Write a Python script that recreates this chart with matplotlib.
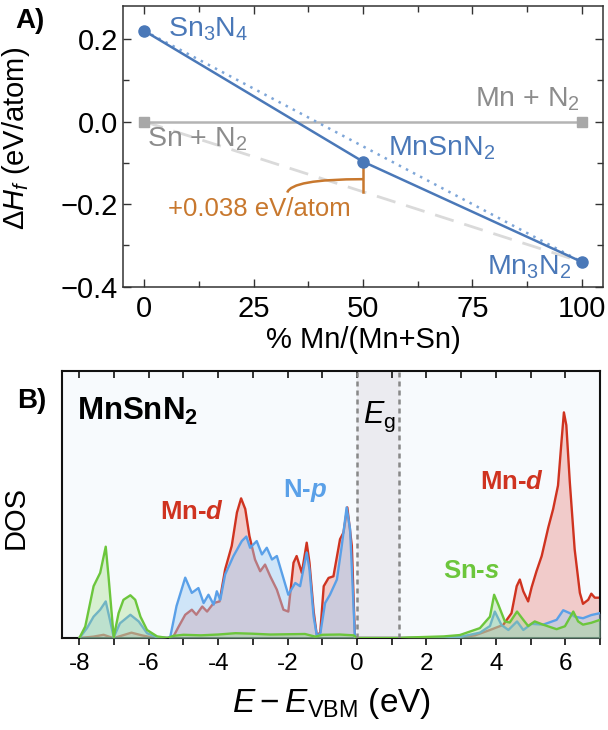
import numpy as np
import matplotlib
matplotlib.use("Agg")
import matplotlib.pyplot as plt
from matplotlib.path import Path
from matplotlib.patches import PathPatch
from matplotlib.ticker import MultipleLocator

plt.rcParams["font.family"] = ["Liberation Sans", "DejaVu Sans"]
plt.rcParams["mathtext.fontset"] = "custom"
plt.rcParams["mathtext.rm"] = "Liberation Sans"
plt.rcParams["mathtext.it"] = "Liberation Sans:italic"
plt.rcParams["mathtext.bf"] = "Liberation Sans:bold"
plt.rcParams["mathtext.bfit"] = "Liberation Sans:italic:bold"

# ---------------- Panel A: formation enthalpy ----------------
compounds = ["Sn$_3$N$_4$", "MnSnN$_2$", "Mn$_3$N$_2$"]
comp_x = [0, 50, 100]
comp_dH = [0.22, -0.097, -0.34]
elements = ["Sn + N$_2$", "Mn + N$_2$"]
elem_x = [0, 100]
elem_dH = [0.0, 0.0]
above_hull_label = "+0.038 eV/atom"

# ---------------- Panel B: projected DOS ----------------
mn_d_E = [-8.0, -7.6, -7.3, -7.1, -7.0, -6.8, -6.5, -6.2, -5.9, -5.5, -5.3, -5.15,
          -4.95, -4.76, -4.63, -4.46, -4.32, -4.13, -3.96, -3.80, -3.61, -3.46, -3.34,
          -3.22, -3.10, -2.94, -2.79, -2.65, -2.50, -2.31, -2.12, -1.98, -1.83, -1.74,
          -1.59, -1.45, -1.37, -1.25, -1.16, -1.06, -0.96, -0.82, -0.68, -0.49, -0.39,
          -0.28, -0.15, -0.06, 1.2, 2.5, 2.96, 3.4, 3.83, 4.21, 4.45, 4.60, 4.69, 4.79,
          4.93, 5.03, 5.17, 5.32, 5.51, 5.65, 5.79, 5.89, 5.96, 6.03, 6.13, 6.27, 6.42,
          6.51, 6.66, 6.75, 6.85, 7.0]
mn_d_dos = [0, 0.5, 1.2, 0.3, 0, 0.8, 2.0, 1.0, 0.2, 0, 0.3, 4.0,
            8.7, 10.6, 8.7, 11.8, 9.9, 13.1, 13.7, 25.7, 34.5, 47.0, 52.3,
            48.3, 38.2, 29.4, 25.0, 27.5, 23.1, 18.1, 10.6, 9.9, 28.2, 30.7,
            24.4, 35.7, 28.2, 10.0, 1.0, 2.0, 19.4, 22.5, 23.1, 37.0, 39.5,
            48.9, 34.5, 0, 0, 0, 0.2, 1.0, 3.0, 4.9, 9.3, 19.4, 21.9, 17.5,
            13.7, 19.0, 25.0, 30.7, 41.4, 48.3, 57.1, 73.5, 84.5, 79.7, 58.4, 33.2, 16.9,
            12.8, 14.3, 16.6, 15.1, 15.1]

n_p_E = [-8.0, -7.78, -7.59, -7.40, -7.24, -7.12, -7.01, -6.83, -6.53, -6.29, -6.05,
         -5.76, -5.45, -5.38, -5.2, -4.95, -4.76, -4.57, -4.42, -4.28, -4.13, -4.04,
         -3.94, -3.80, -3.56, -3.32, -3.19, -3.08, -2.89, -2.74, -2.60, -2.45, -2.31,
         -1.98, -1.78, -1.64, -1.45, -1.37, -1.25, -1.16, -1.06, -0.92, -0.78, -0.58,
         -0.44, -0.30, -0.20, -0.06, 1.2, 2.5, 2.96, 3.54, 3.83, 3.97, 4.16, 4.36, 4.61,
         4.79, 5.03, 5.36, 5.75, 5.94, 6.13, 6.27, 6.51, 6.75, 7.0]
n_p_dos = [0, 3.7, 8.0, 10.6, 13.7, 6.8, 0.3, 5.5, 8.7, 6.2, 1.8,
           0.3, 0, 0.5, 12.0, 22.6, 16.9, 18.7, 13.1, 16.2, 12.5, 17.5,
           14.3, 23.8, 30.7, 36.3, 38.0, 33.8, 36.3, 31.3, 33.8, 29.4, 30.7,
           16.2, 20.6, 19.4, 32.0, 25.7, 8.0, 1.1, 1.5, 13.1, 16.2, 21.9,
           34.5, 48.9, 40.8, 0, 0, 0.1, 0.4, 2.0, 4.5, 9.9, 4.9, 3.0, 6.2,
           3.0, 5.3, 5.0, 6.8, 10.4, 9.3, 8.0, 7.4, 8.6, 9.3]

sn_s_E = [-8.0, -7.83, -7.59, -7.40, -7.24, -7.16, -7.01, -6.87, -6.73, -6.53, -6.39,
          -6.24, -6.05, -5.76, -5.45, -5.3, -5.0, -4.5, -4.0, -3.5, -3.0, -2.5, -2.0,
          -1.5, -1.2, -1.0, -0.5, -0.1, 0.0, 1.2, 1.5, 2.0, 2.5, 2.96, 3.54, 3.83, 3.95,
          4.07, 4.26, 4.40, 4.61, 4.79, 4.93, 5.12, 5.36, 5.75, 5.99, 6.23, 6.37, 6.51,
          6.75, 7.0]
sn_s_dos = [0, 4.3, 19.4, 24.4, 34.2, 23.1, 0.3, 9.3, 14.3, 16.0, 14.3,
            8.0, 3.0, 0.6, 0, 0.8, 1.2, 1.0, 1.3, 1.8, 1.6, 1.3, 1.4,
            1.5, 0.5, 1.2, 1.3, 1.0, 0, 0, 0.2, 0.4, 0.6, 1.1, 3.7, 8.0, 16.2,
            12.5, 6.2, 5.8, 9.9, 6.8, 4.5, 6.2, 5.0, 3.3, 4.4, 9.9, 6.2, 5.0,
            5.7, 6.8]

gap_edges = [0.0, 1.2]

BLUE = "#4a78b8"
BLUE_LIGHT = "#7ea6d8"
GRAY = "#b4b4b4"
GRAY_TXT = "#8c8c8c"
ORANGE = "#c8782e"

RED = "#cf3320"
NBLUE = "#5aa0e8"
GREEN = "#6cc63c"

fig = plt.figure(figsize=(6.08, 7.30), dpi=100)

# ====== Panel A ======
axA = fig.add_axes([122.7 / 608, 1 - 286.7 / 730, 480.6 / 608, 280.7 / 730])
axA.set_xlim(-4.9, 104.9)
axA.set_ylim(-0.4, 0.28)

# reference lines, hull and compound line
axA.plot(elem_x, elem_dH, color=GRAY, lw=1.8, zorder=2)
axA.plot([elem_x[0], comp_x[2]], [elem_dH[0], comp_dH[2]], color="#dadada",
         lw=2.0, dashes=(7, 4), zorder=1)
axA.plot([comp_x[0], comp_x[2]], [comp_dH[0], comp_dH[2]], color=BLUE_LIGHT,
         lw=1.8, linestyle=(0, (1, 2.2)), zorder=2)
axA.plot(comp_x, comp_dH, color=BLUE, lw=1.8, zorder=3)
axA.plot(elem_x, elem_dH, "s", color="#a8a8a8", ms=7, zorder=4)
axA.plot(comp_x, comp_dH, "o", color=BLUE, ms=8, zorder=5)

# energy above hull bracket with a curved leader to its label
hull_mid = elem_dH[0] + (comp_dH[2] - elem_dH[0]) * (comp_x[1] - elem_x[0]) / (comp_x[2] - elem_x[0])
axA.plot([comp_x[1], comp_x[1]], [hull_mid, comp_dH[1]], color=ORANGE, lw=1.8, zorder=4)
mid_y = (hull_mid + comp_dH[1]) / 2 - 0.006
leader = Path([(32.7, hull_mid - 0.002), (33.6, mid_y), (comp_x[1], mid_y)],
              [Path.MOVETO, Path.CURVE3, Path.CURVE3])
axA.add_patch(PathPatch(leader, fc="none", ec=ORANGE, lw=1.8, zorder=4))
axA.text(5.5, -0.2295, above_hull_label, color=ORANGE, fontsize=18.5,
         ha="left", va="baseline")

axA.text(5.5, 0.205, compounds[0], color=BLUE, fontsize=20.5, ha="left", va="baseline")
axA.text(55.6, -0.0816, compounds[1], color=BLUE, fontsize=20.5, ha="left", va="baseline")
axA.text(97.7, -0.37, compounds[2], color=BLUE, fontsize=20.5, ha="right", va="baseline")
axA.text(0.6, -0.0615, elements[0], color=GRAY_TXT, fontsize=20.5, ha="left", va="baseline")
axA.text(99.6, 0.037, elements[1], color=GRAY_TXT, fontsize=20.5, ha="right", va="baseline")

axA.xaxis.set_minor_locator(MultipleLocator(12.5))
axA.yaxis.set_minor_locator(MultipleLocator(0.1))
axA.set_xticks([0, 25, 50, 75, 100])
axA.set_yticks([-0.4, -0.2, 0.0, 0.2])
axA.set_yticklabels(["\u22120.4", "\u22120.2", "0.0", "0.2"])
axA.tick_params(axis="both", which="both", direction="in", top=True, right=True,
                labelsize=21, color="#333333")
axA.tick_params(which="major", length=6, width=1)
axA.tick_params(which="minor", length=4, width=1)
axA.tick_params(axis="x", pad=6)
for s in axA.spines.values():
    s.set_color("#333333")
    s.set_linewidth(1.1)
axA.set_xlabel("% Mn/(Mn+Sn)", fontsize=21, labelpad=2)
axA.set_ylabel(r"$\Delta H_f$ (eV/atom)", fontsize=21)
axA.yaxis.set_label_coords(-(122.7 - 32) / 480.6, 0.53)

# ====== Panel B ======
axB = fig.add_axes([62 / 608, 1 - 638 / 730, 538 / 608, 267 / 730])
axB.set_facecolor("#f7fafd")
axB.set_xlim(-8.5, 7.0)
axB.set_ylim(0, 100)

axB.axvspan(gap_edges[0], gap_edges[1], color="#ebebf0", zorder=0)
for xe in gap_edges:
    axB.axvline(xe, color="#888888", lw=1.8, linestyle=(0, (2.0, 1.6)), zorder=6)

axB.fill_between(mn_d_E, mn_d_dos, color="#ec9e98", alpha=0.5, lw=0, zorder=1)
axB.plot(mn_d_E, mn_d_dos, color=RED, lw=1.7, zorder=2)
axB.fill_between(n_p_E, n_p_dos, color="#9fcdf2", alpha=0.45, lw=0, zorder=3)
axB.plot(n_p_E, n_p_dos, color=NBLUE, lw=1.7, zorder=4)
axB.fill_between(sn_s_E, sn_s_dos, color="#9edc80", alpha=0.35, lw=0, zorder=4.5)
axB.plot(sn_s_E, sn_s_dos, color=GREEN, lw=1.7, zorder=5)

axB.text(-8.07, 81.6, "MnSnN$_\\mathbf{2}$", fontsize=22.5, fontweight="bold",
         ha="left", va="baseline")
axB.text(0.17, 80.4, r"$E_\mathrm{g}$", fontsize=22, ha="left", va="baseline")
axB.text(-5.67, 44.5, r"Mn-$\mathbfit{d}$", color=RED, fontsize=18.5, fontweight="bold",
         ha="left", va="baseline")
axB.text(-2.12, 52.8, r"N-$\mathbfit{p}$", color=NBLUE, fontsize=18.5, fontweight="bold",
         ha="left", va="baseline")
axB.text(3.54, 55.8, r"Mn-$\mathbfit{d}$", color=RED, fontsize=18.5, fontweight="bold",
         ha="left", va="baseline")
axB.text(2.47, 22.3, r"Sn-$\mathbfit{s}$", color=GREEN, fontsize=18.5, fontweight="bold",
         ha="left", va="baseline")

axB.set_xticks(np.arange(-8, 7, 2))
axB.set_xticklabels([str(int(v)) for v in np.arange(-8, 7, 2)])
axB.xaxis.set_minor_locator(MultipleLocator(1))
axB.set_yticks([])
axB.tick_params(axis="x", which="both", direction="out", bottom=True, top=False,
                labelsize=17.5, color="#222222", length=5, width=1.3, pad=6)
secx = axB.secondary_xaxis("top")
secx.set_xticks(np.arange(-8, 8, 1))
secx.tick_params(axis="x", direction="in", length=5, width=1.3, labeltop=False,
                 color="#222222")
secx.spines["top"].set_visible(False)
for s in axB.spines.values():
    s.set_color("#111111")
    s.set_linewidth(1.5)
axB.set_xlabel(r"$E - E_\mathrm{VBM}$ (eV)", fontsize=24, labelpad=8)
axB.set_ylabel("DOS", fontsize=21)
axB.yaxis.set_label_coords(-(62 - 30) / 538, 0.45)

fig.text(15 / 608, 1 - 28 / 730, "A)", fontsize=20, fontweight="bold", va="baseline")
fig.text(17 / 608, 1 - 408 / 730, "B)", fontsize=20, fontweight="bold", va="baseline")

fig.savefig("out.png", dpi=100)
